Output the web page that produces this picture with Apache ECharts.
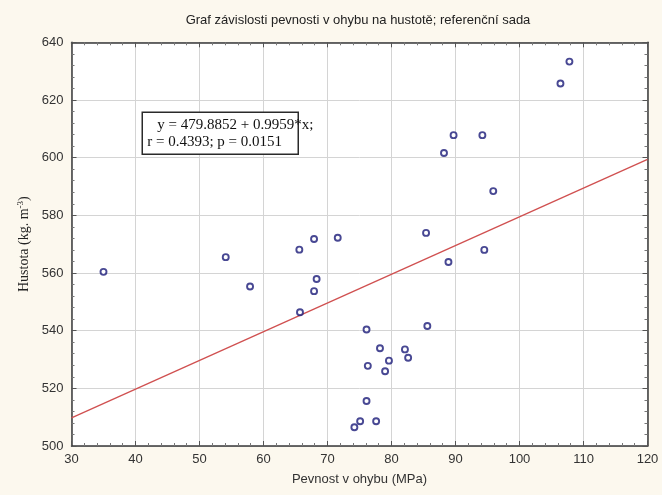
<!DOCTYPE html>
<html>
<head>
<meta charset="utf-8">
<script src="https://cdn.jsdelivr.net/npm/echarts@6/dist/echarts.min.js"></script>
<style>
  html, body { margin: 0; padding: 0; background: #fcf8ee; }
  #chart { width: 662px; height: 495px; }
</style>
</head>
<body>
<div id="chart"></div>
<script>
// Flexural strength (MPa) and density (kg/m3) of the reference set
var pevnost = [35.0, 54.1, 57.9, 65.7, 65.6, 67.9, 71.6, 68.3, 67.9,
  76.1, 85.6, 78.2, 82.1, 82.6, 79.6, 76.3, 79.0, 76.1, 75.1, 77.6, 74.2,
  107.8, 106.4, 89.7, 94.2, 88.2, 95.9, 85.4, 94.5, 88.9];
var hustota = [560.4, 565.5, 555.3, 546.4, 568.1, 571.8, 572.2, 557.9, 553.7,
  540.4, 541.6, 533.9, 533.5, 530.6, 529.6, 527.8, 525.9, 515.6, 508.6, 508.6, 506.5,
  633.3, 625.7, 607.8, 607.8, 601.6, 588.4, 573.9, 568.0, 563.8];

// Fitted linear regression
var intercept = 479.8852;
var slope = 0.9959;
var corrR = 0.4393;
var pValue = 0.0151;

var xTicks = { min: 30, max: 120, interval: 10 };
var yTicks = { min: 500, max: 640, interval: 20 };

var titleText = 'Graf závislosti pevnosti v ohybu na hustotě; referenční sada';
var xName = 'Pevnost v ohybu (MPa)';

var points = pevnost.map(function (x, i) { return [x, hustota[i]]; });
var fitLine = [xTicks.min, xTicks.max].map(function (x) { return [x, intercept + slope * x]; });

var sans = '"Liberation Sans", Arial, sans-serif';
var serif = '"Liberation Serif", "Times New Roman", serif';
var frame = { show: true, onZero: false, lineStyle: { color: '#3a3a3a', width: 1.5 } };
var tick = { show: true, inside: true, length: 5, lineStyle: { color: '#555', width: 1 } };
var minor = { show: true, splitNumber: 5, length: 3, lineStyle: { color: '#777', width: 1 } };
var grid = { show: true, lineStyle: { color: '#d4d4d4', width: 1 } };

var chart = echarts.init(document.getElementById('chart'), null, { renderer: 'canvas' });
chart.setOption({
  backgroundColor: '#fcf8ee',
  animation: false,
  title: {
    text: titleText,
    left: 353, top: 9, textAlign: 'center',
    textStyle: { fontFamily: sans, fontSize: 13, fontWeight: 'normal', color: '#222' }
  },
  grid: { left: 71.5, right: 14.5, top: 42.3, bottom: 49, backgroundColor: '#ffffff', show: true, borderWidth: 0 },
  xAxis: [{
    type: 'value', min: xTicks.min, max: xTicks.max, interval: xTicks.interval,
    name: xName, nameLocation: 'middle', nameGap: 27,
    nameTextStyle: { fontFamily: sans, fontSize: 13, color: '#333' },
    axisLine: frame, axisTick: tick, minorTick: minor, splitLine: grid,
    axisLabel: { fontFamily: sans, fontSize: 13, color: '#333', margin: 7 }
  }, {
    type: 'value', position: 'top', min: xTicks.min, max: xTicks.max, interval: xTicks.interval,
    axisLine: frame, axisTick: tick, minorTick: minor, splitLine: { show: false },
    axisLabel: { show: false }
  }],
  yAxis: [{
    type: 'value', min: yTicks.min, max: yTicks.max, interval: yTicks.interval,
    name: '{a|Hustota (kg. m}{s|-3}{a|)}', nameLocation: 'middle', nameGap: 40,
    nameTextStyle: {
      rich: {
        a: { fontFamily: serif, fontSize: 14, color: '#222' },
        s: { fontFamily: serif, fontSize: 9, color: '#222', verticalAlign: 'top', padding: [0, 0, 6, 0] }
      }
    },
    axisLine: frame, axisTick: tick, minorTick: minor, splitLine: grid,
    axisLabel: { fontFamily: sans, fontSize: 13, color: '#333', margin: 8 }
  }, {
    type: 'value', position: 'right', min: yTicks.min, max: yTicks.max, interval: yTicks.interval,
    axisLine: frame, axisTick: tick, minorTick: minor, splitLine: { show: false },
    axisLabel: { show: false }
  }],
  series: [{
    type: 'line', data: fitLine, showSymbol: false, symbol: 'none',
    lineStyle: { color: '#d05050', width: 1.3 }, z: 2
  }, {
    type: 'scatter', data: points, symbol: 'circle', symbolSize: 6,
    itemStyle: { color: '#ffffff', borderColor: '#1a1a78', borderWidth: 1.9 }, z: 3
  }],
  graphic: [{
    type: 'group', left: 141.5, top: 111.5, z: 100, zlevel: 1,
    children: [{
      type: 'rect', z: 100, shape: { x: 0, y: 0, width: 156, height: 42 },
      style: { fill: '#ffffff', stroke: '#2a2a2a', lineWidth: 1.5 }
    }, {
      type: 'text', z: 101, x: 15, y: 5,
      style: { text: 'y = ' + intercept.toFixed(4) + ' + ' + slope.toFixed(4) + '*x;',
        font: '15px ' + serif, fill: '#111' }
    }, {
      type: 'text', z: 101, x: 5, y: 22,
      style: { text: 'r = ' + corrR.toFixed(4) + '; p = ' + pValue.toFixed(4),
        font: '15px ' + serif, fill: '#111' }
    }]
  }]
});
</script>
</body>
</html>
